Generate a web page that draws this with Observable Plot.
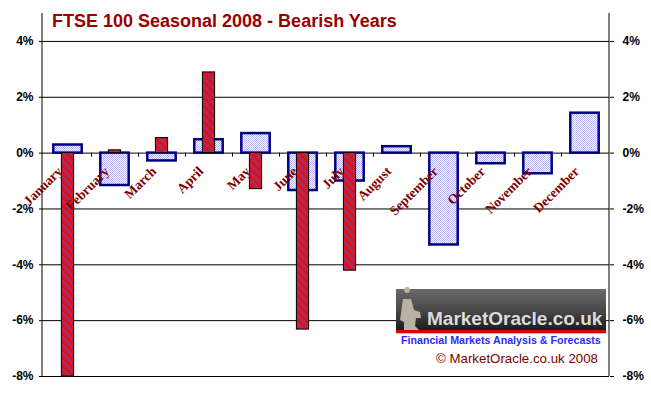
<!DOCTYPE html>
<html><head><meta charset="utf-8">
<script src="https://cdn.jsdelivr.net/npm/d3@7"></script>
<script src="https://cdn.jsdelivr.net/npm/@observablehq/plot@0.6"></script>
<style>
html,body{margin:0;padding:0;background:#fff;}
#chart{width:651px;height:394px;}
</style></head><body><div id="chart"></div>
<script>
const months = ["January","February","March","April","May","June","July","August","September","October","November","December"];
const seasonalAvg = [0.29, -1.16, -0.28, 0.48, 0.70, -1.34, -1.00, 0.23, -3.29, -0.38, -0.74, 1.43];
const actual2008 = [-8.0, 0.10, 0.54, 2.89, -1.29, -6.32, -4.21, null, null, null, null, null];
const yTicks = [4, 2, 0, -2, -4, -6, -8];
const titleText = "FTSE 100 Seasonal 2008 - Bearish Years";
const logoText = "MarketOracle.co.uk";
const taglineText = "Financial Markets Analysis & Forecasts";
const copyrightText = "\u00A9 MarketOracle.co.uk 2008";

const seasonalData = months.map((m, i) => ({month: m, value: seasonalAvg[i]}));
const actualData = months.map((m, i) => ({month: m, value: actual2008[i]})).filter(d => d.value != null);
const labelData = months.map(m => ({month: m}));

const W = 651, H = 394, mL = 42, mR = 42, mT = 13, mB = 18;
const sans = "'Liberation Sans', Arial, sans-serif";

const chart = Plot.plot({
  width: W, height: H,
  marginLeft: mL, marginRight: mR, marginTop: mT, marginBottom: mB,
  style: {background: "#fff", fontFamily: sans, overflow: "visible"},
  x: {domain: months, padding: 0, axis: null},
  y: {domain: [-8, 5], axis: null},
  marks: [
    Plot.gridY(yTicks, {stroke: "#000", strokeOpacity: 1, strokeWidth: 1}),
    Plot.barY(seasonalData, {x: "month", y: "value", fill: "url(#checker)", stroke: "#000080",
      strokeWidth: 2.5, insetLeft: 9.3, insetRight: 9.3}),
    Plot.barY(actualData, {x: "month", y: "value", fill: "url(#stripes)", stroke: "#000",
      strokeWidth: 1, insetLeft: 17.4, insetRight: 17.4}),
    Plot.text(labelData, {x: "month", y: 0, text: "month", rotate: -45, textAnchor: "end",
      dx: -8, dy: 16, fill: "#800000", fontFamily: "'Liberation Serif', 'Times New Roman', serif",
      fontWeight: "bold", fontSize: 13.5}),
    Plot.axisY(yTicks, {anchor: "left", tickSize: 3, tickPadding: 6, tickFormat: d => d + "%",
      label: null, fontSize: 12, fontWeight: "bold", fill: "#000"}),
    Plot.axisY(yTicks, {anchor: "right", tickSize: 4, tickPadding: 9, tickFormat: d => d + "%",
      label: null, fontSize: 12, fontWeight: "bold", fill: "#000"})
  ]
});

const svg = d3.select(chart);
const defs = svg.insert("defs", ":first-child");
const ck = defs.append("pattern").attr("id", "checker").attr("patternUnits", "userSpaceOnUse")
  .attr("width", 2).attr("height", 2);
ck.append("rect").attr("width", 2).attr("height", 2).attr("fill", "#ffffff");
ck.append("rect").attr("width", 1).attr("height", 1).attr("fill", "#b4b4f0");
ck.append("rect").attr("x", 1).attr("y", 1).attr("width", 1).attr("height", 1).attr("fill", "#b4b4f0");
const st = defs.append("pattern").attr("id", "stripes").attr("patternUnits", "userSpaceOnUse")
  .attr("width", 5.66).attr("height", 5.66).attr("patternTransform", "rotate(-45)");
st.append("rect").attr("width", 5.66).attr("height", 5.66).attr("fill", "#993366");
st.append("rect").attr("width", 2.4).attr("height", 5.66).attr("fill", "#ff0000");

const xs = chart.scale("x"), ys = chart.scale("y");
const y0 = ys.apply(0), yTop = ys.apply(5), yBot = ys.apply(-8);
const xLeft = mL, xRight = W - mR;
const deco = svg.append("g");
deco.append("line").attr("x1", xLeft).attr("x2", xLeft).attr("y1", yTop).attr("y2", yBot).attr("stroke", "#000");
deco.append("line").attr("x1", xRight).attr("x2", xRight).attr("y1", yTop).attr("y2", yBot).attr("stroke", "#000");
months.slice(1).forEach(m => {
  const x = Math.round(xs.apply(m)) + 0.5;
  deco.append("line").attr("x1", x).attr("x2", x).attr("y1", y0).attr("y2", y0 + 4).attr("stroke", "#000");
});
svg.append("text").attr("x", 52).attr("y", 27).attr("text-anchor", "start").attr("fill", "#990000")
  .attr("font-family", sans).attr("font-weight", "bold").attr("font-size", 18).text(titleText);

const lg = svg.append("g").attr("text-anchor", "start");
const grad = defs.append("linearGradient").attr("id", "logoGrad").attr("x1", 0).attr("x2", 0).attr("y1", 0).attr("y2", 1);
grad.append("stop").attr("offset", "0%").attr("stop-color", "#6a6a6a");
grad.append("stop").attr("offset", "55%").attr("stop-color", "#454545");
grad.append("stop").attr("offset", "100%").attr("stop-color", "#1a1a1a");
lg.append("rect").attr("x", 396).attr("y", 289).attr("width", 210).attr("height", 42).attr("fill", "url(#logoGrad)");
lg.append("rect").attr("x", 396).attr("y", 330).attr("width", 210).attr("height", 3).attr("fill", "#dd0000");
lg.append("rect").attr("x", 396).attr("y", 333).attr("width", 210).attr("height", 1).attr("fill", "#f4b0b0");
lg.append("path").attr("fill", "#b9b2a2")
  .attr("d", "M407,293 a3,3 0 1,1 0.1,0 Z M403,299 L411,299 L414,310 L420,312 L421,318 L416,318 L415,326 L419,330 L404,330 L404,322 L400,320 Z");
lg.append("text").attr("x", 427).attr("y", 325).attr("text-anchor", "start").attr("fill", "#dcdcdc")
  .attr("font-family", sans).attr("font-weight", "bold").attr("font-size", 19).text(logoText);
lg.append("text").attr("x", 401).attr("y", 344).attr("text-anchor", "start").attr("fill", "#2b2bff")
  .attr("font-family", sans).attr("font-weight", "bold").attr("font-size", 10.67).text(taglineText);
lg.append("text").attr("x", 598).attr("y", 362.5).attr("text-anchor", "end").attr("fill", "#800000")
  .attr("font-family", sans).attr("font-size", 13.3).text(copyrightText);

document.getElementById("chart").appendChild(chart);
</script>
</body></html>
